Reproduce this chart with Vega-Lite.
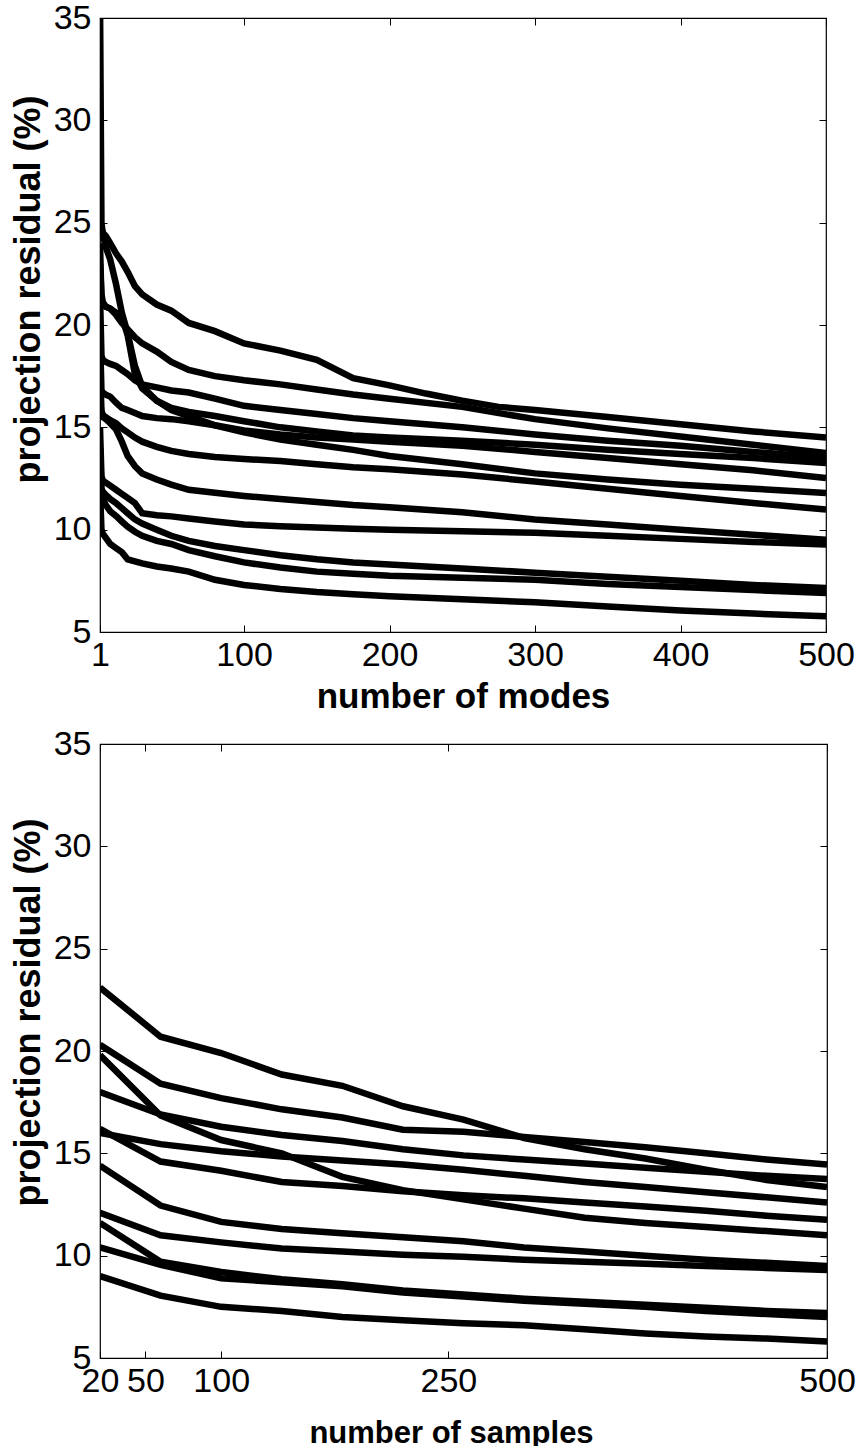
{
"$schema": "https://vega.github.io/schema/vega-lite/v6.json",
"background": "white",
"padding": {"left": 9, "top": 0, "right": 0, "bottom": 0},
"config": {
  "font": "Liberation Sans",
  "view": {"stroke": "black", "strokeWidth": 1.2},
  "axis": {"grid": false, "domain": false, "tickColor": "black", "tickSize": -7, "tickWidth": 1, "labelFont": "Liberation Sans", "labelFontSize": 34, "labelColor": "black", "labelFlush": false, "labelOverlap": false, "titleFont": "Liberation Sans", "titleColor": "black", "titleFontWeight": "bold"}
},
"spacing": 11,
"datasets": {
"modes": [
{"curve":"U1","x":1,"y":25.0},{"curve":"U1","x":2,"y":24.7},{"curve":"U1","x":3,"y":24.5},{"curve":"U1","x":5,"y":24.35},{"curve":"U1","x":8,"y":24.0},{"curve":"U1","x":12,"y":23.5},{"curve":"U1","x":16,"y":23.1},{"curve":"U1","x":20,"y":22.6},{"curve":"U1","x":25,"y":21.9},{"curve":"U1","x":30,"y":21.5},{"curve":"U1","x":40,"y":21.0},{"curve":"U1","x":50,"y":20.7},{"curve":"U1","x":62,"y":20.1},{"curve":"U1","x":80,"y":19.7},{"curve":"U1","x":100,"y":19.1},{"curve":"U1","x":125,"y":18.75},{"curve":"U1","x":150,"y":18.3},{"curve":"U1","x":175,"y":17.4},{"curve":"U1","x":200,"y":17.05},{"curve":"U1","x":225,"y":16.65},{"curve":"U1","x":250,"y":16.3},{"curve":"U1","x":275,"y":16.0},{"curve":"U1","x":300,"y":15.85},{"curve":"U1","x":350,"y":15.5},{"curve":"U1","x":400,"y":15.15},{"curve":"U1","x":450,"y":14.8},{"curve":"U1","x":500,"y":14.5},
{"curve":"U2","x":1,"y":23.0},{"curve":"U2","x":2,"y":21.5},{"curve":"U2","x":3,"y":21.1},{"curve":"U2","x":5,"y":20.9},{"curve":"U2","x":8,"y":20.8},{"curve":"U2","x":12,"y":20.5},{"curve":"U2","x":16,"y":20.1},{"curve":"U2","x":20,"y":19.8},{"curve":"U2","x":25,"y":19.4},{"curve":"U2","x":30,"y":19.1},{"curve":"U2","x":40,"y":18.7},{"curve":"U2","x":50,"y":18.2},{"curve":"U2","x":62,"y":17.8},{"curve":"U2","x":80,"y":17.5},{"curve":"U2","x":100,"y":17.3},{"curve":"U2","x":125,"y":17.1},{"curve":"U2","x":150,"y":16.85},{"curve":"U2","x":175,"y":16.6},{"curve":"U2","x":200,"y":16.4},{"curve":"U2","x":250,"y":16.0},{"curve":"U2","x":300,"y":15.4},{"curve":"U2","x":350,"y":14.95},{"curve":"U2","x":400,"y":14.55},{"curve":"U2","x":450,"y":14.15},{"curve":"U2","x":500,"y":13.75},
{"curve":"U3","x":1,"y":21.5},{"curve":"U3","x":2,"y":18.5},{"curve":"U3","x":3,"y":18.3},{"curve":"U3","x":5,"y":18.2},{"curve":"U3","x":8,"y":18.1},{"curve":"U3","x":12,"y":18.0},{"curve":"U3","x":16,"y":17.8},{"curve":"U3","x":20,"y":17.6},{"curve":"U3","x":25,"y":17.3},{"curve":"U3","x":30,"y":17.1},{"curve":"U3","x":40,"y":16.95},{"curve":"U3","x":50,"y":16.8},{"curve":"U3","x":62,"y":16.7},{"curve":"U3","x":80,"y":16.4},{"curve":"U3","x":100,"y":16.05},{"curve":"U3","x":125,"y":15.85},{"curve":"U3","x":150,"y":15.65},{"curve":"U3","x":175,"y":15.45},{"curve":"U3","x":200,"y":15.3},{"curve":"U3","x":250,"y":15.0},{"curve":"U3","x":300,"y":14.65},{"curve":"U3","x":350,"y":14.35},{"curve":"U3","x":400,"y":14.1},{"curve":"U3","x":450,"y":13.8},{"curve":"U3","x":500,"y":13.5},
{"curve":"U4","x":1,"y":36.0},{"curve":"U4","x":2,"y":25.0},{"curve":"U4","x":3,"y":24.4},{"curve":"U4","x":5,"y":23.8},{"curve":"U4","x":8,"y":23.2},{"curve":"U4","x":12,"y":22.0},{"curve":"U4","x":16,"y":20.6},{"curve":"U4","x":20,"y":19.6},{"curve":"U4","x":25,"y":18.0},{"curve":"U4","x":30,"y":17.0},{"curve":"U4","x":40,"y":16.3},{"curve":"U4","x":50,"y":15.95},{"curve":"U4","x":62,"y":15.75},{"curve":"U4","x":80,"y":15.55},{"curve":"U4","x":100,"y":15.3},{"curve":"U4","x":125,"y":15.0},{"curve":"U4","x":150,"y":14.8},{"curve":"U4","x":175,"y":14.6},{"curve":"U4","x":200,"y":14.5},{"curve":"U4","x":250,"y":14.35},{"curve":"U4","x":300,"y":14.15},{"curve":"U4","x":350,"y":13.9},{"curve":"U4","x":400,"y":13.7},{"curve":"U4","x":450,"y":13.5},{"curve":"U4","x":500,"y":13.26},
{"curve":"U5","x":1,"y":19.5},{"curve":"U5","x":2,"y":16.8},{"curve":"U5","x":3,"y":16.7},{"curve":"U5","x":5,"y":16.6},{"curve":"U5","x":8,"y":16.5},{"curve":"U5","x":12,"y":16.2},{"curve":"U5","x":16,"y":15.95},{"curve":"U5","x":20,"y":15.85},{"curve":"U5","x":25,"y":15.7},{"curve":"U5","x":30,"y":15.55},{"curve":"U5","x":40,"y":15.45},{"curve":"U5","x":50,"y":15.4},{"curve":"U5","x":62,"y":15.3},{"curve":"U5","x":80,"y":15.1},{"curve":"U5","x":100,"y":14.85},{"curve":"U5","x":125,"y":14.65},{"curve":"U5","x":150,"y":14.5},{"curve":"U5","x":175,"y":14.4},{"curve":"U5","x":200,"y":14.3},{"curve":"U5","x":250,"y":14.1},{"curve":"U5","x":300,"y":13.8},{"curve":"U5","x":350,"y":13.5},{"curve":"U5","x":400,"y":13.2},{"curve":"U5","x":450,"y":12.9},{"curve":"U5","x":500,"y":12.52},
{"curve":"U6","x":1,"y":24.0},{"curve":"U6","x":2,"y":21.2},{"curve":"U6","x":3,"y":21.0},{"curve":"U6","x":5,"y":20.9},{"curve":"U6","x":8,"y":20.8},{"curve":"U6","x":12,"y":20.6},{"curve":"U6","x":16,"y":20.4},{"curve":"U6","x":20,"y":19.5},{"curve":"U6","x":25,"y":17.6},{"curve":"U6","x":30,"y":16.9},{"curve":"U6","x":40,"y":16.3},{"curve":"U6","x":50,"y":15.85},{"curve":"U6","x":62,"y":15.55},{"curve":"U6","x":80,"y":15.1},{"curve":"U6","x":100,"y":14.75},{"curve":"U6","x":125,"y":14.4},{"curve":"U6","x":150,"y":14.15},{"curve":"U6","x":175,"y":13.9},{"curve":"U6","x":200,"y":13.6},{"curve":"U6","x":250,"y":13.2},{"curve":"U6","x":300,"y":12.75},{"curve":"U6","x":350,"y":12.45},{"curve":"U6","x":400,"y":12.2},{"curve":"U6","x":450,"y":12.0},{"curve":"U6","x":500,"y":11.79},
{"curve":"U7","x":1,"y":18.0},{"curve":"U7","x":2,"y":15.8},{"curve":"U7","x":3,"y":15.6},{"curve":"U7","x":5,"y":15.5},{"curve":"U7","x":8,"y":15.35},{"curve":"U7","x":12,"y":15.2},{"curve":"U7","x":16,"y":14.95},{"curve":"U7","x":20,"y":14.75},{"curve":"U7","x":25,"y":14.5},{"curve":"U7","x":30,"y":14.3},{"curve":"U7","x":40,"y":14.05},{"curve":"U7","x":50,"y":13.85},{"curve":"U7","x":62,"y":13.7},{"curve":"U7","x":80,"y":13.55},{"curve":"U7","x":100,"y":13.45},{"curve":"U7","x":125,"y":13.35},{"curve":"U7","x":150,"y":13.2},{"curve":"U7","x":175,"y":13.05},{"curve":"U7","x":200,"y":12.95},{"curve":"U7","x":250,"y":12.7},{"curve":"U7","x":300,"y":12.35},{"curve":"U7","x":350,"y":12.0},{"curve":"U7","x":400,"y":11.65},{"curve":"U7","x":450,"y":11.3},{"curve":"U7","x":500,"y":10.98},
{"curve":"L1","x":1,"y":16.5},{"curve":"L1","x":2,"y":15.6},{"curve":"L1","x":3,"y":15.5},{"curve":"L1","x":5,"y":15.4},{"curve":"L1","x":8,"y":15.2},{"curve":"L1","x":12,"y":14.9},{"curve":"L1","x":16,"y":14.3},{"curve":"L1","x":20,"y":13.6},{"curve":"L1","x":25,"y":13.1},{"curve":"L1","x":30,"y":12.75},{"curve":"L1","x":40,"y":12.45},{"curve":"L1","x":50,"y":12.2},{"curve":"L1","x":62,"y":11.95},{"curve":"L1","x":80,"y":11.8},{"curve":"L1","x":100,"y":11.65},{"curve":"L1","x":125,"y":11.5},{"curve":"L1","x":150,"y":11.35},{"curve":"L1","x":175,"y":11.2},{"curve":"L1","x":200,"y":11.1},{"curve":"L1","x":250,"y":10.85},{"curve":"L1","x":300,"y":10.5},{"curve":"L1","x":350,"y":10.25},{"curve":"L1","x":400,"y":10.0},{"curve":"L1","x":450,"y":9.75},{"curve":"L1","x":500,"y":9.51},
{"curve":"L2","x":1,"y":15.0},{"curve":"L2","x":2,"y":12.6},{"curve":"L2","x":3,"y":12.4},{"curve":"L2","x":5,"y":12.3},{"curve":"L2","x":8,"y":12.15},{"curve":"L2","x":12,"y":11.95},{"curve":"L2","x":16,"y":11.75},{"curve":"L2","x":20,"y":11.55},{"curve":"L2","x":25,"y":11.3},{"curve":"L2","x":30,"y":10.8},{"curve":"L2","x":40,"y":10.7},{"curve":"L2","x":50,"y":10.65},{"curve":"L2","x":62,"y":10.55},{"curve":"L2","x":80,"y":10.4},{"curve":"L2","x":100,"y":10.25},{"curve":"L2","x":125,"y":10.17},{"curve":"L2","x":150,"y":10.1},{"curve":"L2","x":175,"y":10.05},{"curve":"L2","x":200,"y":10.0},{"curve":"L2","x":250,"y":9.92},{"curve":"L2","x":300,"y":9.85},{"curve":"L2","x":350,"y":9.7},{"curve":"L2","x":400,"y":9.55},{"curve":"L2","x":450,"y":9.4},{"curve":"L2","x":500,"y":9.27},
{"curve":"L3","x":1,"y":14.0},{"curve":"L3","x":2,"y":12.0},{"curve":"L3","x":3,"y":11.85},{"curve":"L3","x":5,"y":11.7},{"curve":"L3","x":8,"y":11.5},{"curve":"L3","x":12,"y":11.3},{"curve":"L3","x":16,"y":11.05},{"curve":"L3","x":20,"y":10.8},{"curve":"L3","x":25,"y":10.5},{"curve":"L3","x":30,"y":10.3},{"curve":"L3","x":40,"y":10.0},{"curve":"L3","x":50,"y":9.7},{"curve":"L3","x":62,"y":9.45},{"curve":"L3","x":80,"y":9.2},{"curve":"L3","x":100,"y":9.0},{"curve":"L3","x":125,"y":8.75},{"curve":"L3","x":150,"y":8.55},{"curve":"L3","x":175,"y":8.4},{"curve":"L3","x":200,"y":8.3},{"curve":"L3","x":250,"y":8.1},{"curve":"L3","x":300,"y":7.9},{"curve":"L3","x":350,"y":7.7},{"curve":"L3","x":400,"y":7.5},{"curve":"L3","x":450,"y":7.3},{"curve":"L3","x":500,"y":7.15},
{"curve":"L4","x":1,"y":13.0},{"curve":"L4","x":2,"y":11.7},{"curve":"L4","x":3,"y":11.5},{"curve":"L4","x":5,"y":11.2},{"curve":"L4","x":8,"y":10.9},{"curve":"L4","x":12,"y":10.67},{"curve":"L4","x":16,"y":10.4},{"curve":"L4","x":20,"y":10.15},{"curve":"L4","x":25,"y":9.9},{"curve":"L4","x":30,"y":9.7},{"curve":"L4","x":40,"y":9.45},{"curve":"L4","x":50,"y":9.3},{"curve":"L4","x":62,"y":9.0},{"curve":"L4","x":80,"y":8.7},{"curve":"L4","x":100,"y":8.4},{"curve":"L4","x":125,"y":8.15},{"curve":"L4","x":150,"y":7.95},{"curve":"L4","x":175,"y":7.85},{"curve":"L4","x":200,"y":7.75},{"curve":"L4","x":250,"y":7.65},{"curve":"L4","x":300,"y":7.55},{"curve":"L4","x":350,"y":7.35},{"curve":"L4","x":400,"y":7.2},{"curve":"L4","x":450,"y":7.05},{"curve":"L4","x":500,"y":6.9},
{"curve":"L5","x":1,"y":12.0},{"curve":"L5","x":2,"y":10.0},{"curve":"L5","x":3,"y":9.8},{"curve":"L5","x":5,"y":9.6},{"curve":"L5","x":8,"y":9.3},{"curve":"L5","x":12,"y":9.1},{"curve":"L5","x":16,"y":8.9},{"curve":"L5","x":20,"y":8.55},{"curve":"L5","x":25,"y":8.45},{"curve":"L5","x":30,"y":8.35},{"curve":"L5","x":40,"y":8.2},{"curve":"L5","x":50,"y":8.1},{"curve":"L5","x":62,"y":7.95},{"curve":"L5","x":80,"y":7.55},{"curve":"L5","x":100,"y":7.3},{"curve":"L5","x":125,"y":7.1},{"curve":"L5","x":150,"y":6.95},{"curve":"L5","x":175,"y":6.85},{"curve":"L5","x":200,"y":6.75},{"curve":"L5","x":250,"y":6.6},{"curve":"L5","x":300,"y":6.45},{"curve":"L5","x":350,"y":6.25},{"curve":"L5","x":400,"y":6.05},{"curve":"L5","x":450,"y":5.9},{"curve":"L5","x":500,"y":5.77}
],
"samples": [
{"curve":"B1","x":20,"y":23.1},{"curve":"B1","x":60,"y":20.7},{"curve":"B1","x":100,"y":19.9},{"curve":"B1","x":140,"y":18.85},{"curve":"B1","x":180,"y":18.3},{"curve":"B1","x":220,"y":17.3},{"curve":"B1","x":260,"y":16.65},{"curve":"B1","x":300,"y":15.75},{"curve":"B1","x":340,"y":15.2},{"curve":"B1","x":380,"y":14.75},{"curve":"B1","x":420,"y":14.2},{"curve":"B1","x":460,"y":13.7},{"curve":"B1","x":500,"y":13.35},
{"curve":"B2","x":20,"y":20.3},{"curve":"B2","x":60,"y":18.4},{"curve":"B2","x":100,"y":17.7},{"curve":"B2","x":140,"y":17.15},{"curve":"B2","x":180,"y":16.75},{"curve":"B2","x":220,"y":16.15},{"curve":"B2","x":260,"y":16.05},{"curve":"B2","x":300,"y":15.8},{"curve":"B2","x":340,"y":15.55},{"curve":"B2","x":380,"y":15.3},{"curve":"B2","x":420,"y":15.0},{"curve":"B2","x":460,"y":14.7},{"curve":"B2","x":500,"y":14.45},
{"curve":"B3","x":20,"y":19.8},{"curve":"B3","x":60,"y":16.85},{"curve":"B3","x":100,"y":15.65},{"curve":"B3","x":140,"y":15.0},{"curve":"B3","x":180,"y":13.85},{"curve":"B3","x":220,"y":13.2},{"curve":"B3","x":260,"y":12.75},{"curve":"B3","x":300,"y":12.3},{"curve":"B3","x":340,"y":11.85},{"curve":"B3","x":380,"y":11.6},{"curve":"B3","x":420,"y":11.4},{"curve":"B3","x":460,"y":11.2},{"curve":"B3","x":500,"y":11.0},
{"curve":"B4","x":20,"y":18.0},{"curve":"B4","x":60,"y":16.9},{"curve":"B4","x":100,"y":16.3},{"curve":"B4","x":140,"y":15.9},{"curve":"B4","x":180,"y":15.6},{"curve":"B4","x":220,"y":15.2},{"curve":"B4","x":260,"y":14.9},{"curve":"B4","x":300,"y":14.7},{"curve":"B4","x":340,"y":14.5},{"curve":"B4","x":380,"y":14.3},{"curve":"B4","x":420,"y":14.1},{"curve":"B4","x":460,"y":13.9},{"curve":"B4","x":500,"y":13.75},
{"curve":"B5","x":20,"y":16.0},{"curve":"B5","x":60,"y":15.45},{"curve":"B5","x":100,"y":15.1},{"curve":"B5","x":140,"y":14.85},{"curve":"B5","x":180,"y":14.65},{"curve":"B5","x":220,"y":14.45},{"curve":"B5","x":260,"y":14.2},{"curve":"B5","x":300,"y":13.9},{"curve":"B5","x":340,"y":13.6},{"curve":"B5","x":380,"y":13.35},{"curve":"B5","x":420,"y":13.1},{"curve":"B5","x":460,"y":12.85},{"curve":"B5","x":500,"y":12.6},
{"curve":"B6","x":20,"y":16.2},{"curve":"B6","x":60,"y":14.6},{"curve":"B6","x":100,"y":14.15},{"curve":"B6","x":140,"y":13.6},{"curve":"B6","x":180,"y":13.4},{"curve":"B6","x":220,"y":13.15},{"curve":"B6","x":260,"y":12.95},{"curve":"B6","x":300,"y":12.8},{"curve":"B6","x":340,"y":12.6},{"curve":"B6","x":380,"y":12.4},{"curve":"B6","x":420,"y":12.2},{"curve":"B6","x":460,"y":11.95},{"curve":"B6","x":500,"y":11.75},
{"curve":"B7","x":20,"y":14.4},{"curve":"B7","x":60,"y":12.45},{"curve":"B7","x":100,"y":11.65},{"curve":"B7","x":140,"y":11.3},{"curve":"B7","x":180,"y":11.1},{"curve":"B7","x":220,"y":10.9},{"curve":"B7","x":260,"y":10.7},{"curve":"B7","x":300,"y":10.4},{"curve":"B7","x":340,"y":10.2},{"curve":"B7","x":380,"y":10.0},{"curve":"B7","x":420,"y":9.8},{"curve":"B7","x":460,"y":9.65},{"curve":"B7","x":500,"y":9.5},
{"curve":"B8","x":20,"y":12.1},{"curve":"B8","x":60,"y":11.0},{"curve":"B8","x":100,"y":10.65},{"curve":"B8","x":140,"y":10.35},{"curve":"B8","x":180,"y":10.2},{"curve":"B8","x":220,"y":10.05},{"curve":"B8","x":260,"y":9.95},{"curve":"B8","x":300,"y":9.8},{"curve":"B8","x":340,"y":9.7},{"curve":"B8","x":380,"y":9.6},{"curve":"B8","x":420,"y":9.5},{"curve":"B8","x":460,"y":9.4},{"curve":"B8","x":500,"y":9.3},
{"curve":"B9","x":20,"y":11.6},{"curve":"B9","x":60,"y":9.7},{"curve":"B9","x":100,"y":9.2},{"curve":"B9","x":140,"y":8.85},{"curve":"B9","x":180,"y":8.6},{"curve":"B9","x":220,"y":8.3},{"curve":"B9","x":260,"y":8.1},{"curve":"B9","x":300,"y":7.9},{"curve":"B9","x":340,"y":7.75},{"curve":"B9","x":380,"y":7.6},{"curve":"B9","x":420,"y":7.45},{"curve":"B9","x":460,"y":7.3},{"curve":"B9","x":500,"y":7.2},
{"curve":"B10","x":20,"y":10.4},{"curve":"B10","x":60,"y":9.55},{"curve":"B10","x":100,"y":8.9},{"curve":"B10","x":140,"y":8.7},{"curve":"B10","x":180,"y":8.5},{"curve":"B10","x":220,"y":8.2},{"curve":"B10","x":260,"y":8.0},{"curve":"B10","x":300,"y":7.8},{"curve":"B10","x":340,"y":7.65},{"curve":"B10","x":380,"y":7.5},{"curve":"B10","x":420,"y":7.3},{"curve":"B10","x":460,"y":7.15},{"curve":"B10","x":500,"y":7.0},
{"curve":"B11","x":20,"y":9.0},{"curve":"B11","x":60,"y":8.05},{"curve":"B11","x":100,"y":7.5},{"curve":"B11","x":140,"y":7.3},{"curve":"B11","x":180,"y":7.0},{"curve":"B11","x":220,"y":6.85},{"curve":"B11","x":260,"y":6.7},{"curve":"B11","x":300,"y":6.6},{"curve":"B11","x":340,"y":6.4},{"curve":"B11","x":380,"y":6.2},{"curve":"B11","x":420,"y":6.05},{"curve":"B11","x":460,"y":5.95},{"curve":"B11","x":500,"y":5.8}
]
},
"vconcat": [
{
  "width": 726, "height": 614,
  "data": {"name": "modes"},
  "layer": [
    {"mark": {"type": "line", "color": "black", "strokeWidth": 6.5, "clip": true},
     "encoding": {
       "x": {"field": "x", "type": "quantitative", "scale": {"domain": [1, 500], "nice": false, "zero": false},
             "axis": {"values": [1, 100, 200, 300, 400, 500], "labelPadding": 13, "title": "number of modes", "titleFontSize": 35, "titleY": 75, "titleBaseline": "alphabetic"}},
       "y": {"field": "y", "type": "quantitative", "scale": {"domain": [5, 35], "nice": false, "zero": false},
             "axis": {"values": [5, 10, 15, 20, 25, 30, 35], "labelPadding": 16, "title": "projection residual (%)", "titleFontSize": 36, "titleAngle": 270, "titleX": -61, "titleY": 271, "titleBaseline": "alphabetic", "titleAlign": "center"}},
       "detail": {"field": "curve", "type": "nominal"}
     }},
    {"mark": {"type": "point", "opacity": 0, "clip": true},
     "encoding": {
       "x": {"field": "x", "type": "quantitative", "axis": {"orient": "top", "values": [1, 100, 200, 300, 400, 500], "labels": false, "title": null}},
       "y": {"field": "y", "type": "quantitative", "axis": {"orient": "right", "values": [5, 10, 15, 20, 25, 30, 35], "labels": false, "title": null}}
     }}
  ],
  "resolve": {"axis": {"x": "independent", "y": "independent"}}
},
{
  "width": 727, "height": 614,
  "data": {"name": "samples"},
  "layer": [
    {"mark": {"type": "line", "color": "black", "strokeWidth": 6.5, "clip": true},
     "encoding": {
       "x": {"field": "x", "type": "quantitative", "scale": {"domain": [20, 500], "nice": false, "zero": false},
             "axis": {"values": [20, 50, 100, 250, 500], "labelPadding": 13, "title": "number of samples", "titleFontSize": 31, "titleX": 351, "titleY": 84, "titleAlign": "center", "titleBaseline": "alphabetic"}},
       "y": {"field": "y", "type": "quantitative", "scale": {"domain": [5, 35], "nice": false, "zero": false},
             "axis": {"values": [5, 10, 15, 20, 25, 30, 35], "labelPadding": 16, "title": "projection residual (%)", "titleFontSize": 36, "titleAngle": 270, "titleX": -61, "titleY": 268, "titleBaseline": "alphabetic", "titleAlign": "center"}},
       "detail": {"field": "curve", "type": "nominal"}
     }},
    {"mark": {"type": "point", "opacity": 0, "clip": true},
     "encoding": {
       "x": {"field": "x", "type": "quantitative", "axis": {"orient": "top", "values": [20, 50, 100, 250, 500], "labels": false, "title": null}},
       "y": {"field": "y", "type": "quantitative", "axis": {"orient": "right", "values": [5, 10, 15, 20, 25, 30, 35], "labels": false, "title": null}}
     }}
  ],
  "resolve": {"axis": {"x": "independent", "y": "independent"}}
}
]
}
